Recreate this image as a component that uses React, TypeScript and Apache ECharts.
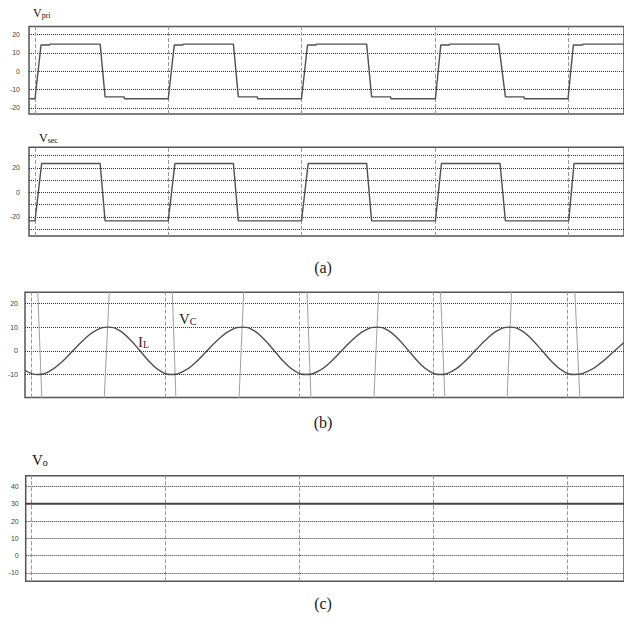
import React, { useEffect, useRef } from 'react';
import * as echarts from 'echarts';

// time axis (µs, one switching period = 10)
const timeMin = -0.45;
const timeMax = 44.2;
const periodMarks = [0, 10, 20, 30, 40];

// (a) primary voltage [t, V]
const vpri: [number, number][] = [
  [-0.45, -15], [0, -15], [0.45, 14.2], [1.1, 14.2], [1.12, 14.7], [4.89, 14.7], [5.26, -14], [6.69, -14], [6.71, -15],
  [10.0, -15], [10.45, 14.2], [11.1, 14.2], [11.12, 14.7], [14.89, 14.7], [15.26, -14], [16.69, -14], [16.71, -15],
  [20.0, -15], [20.45, 14.2], [21.1, 14.2], [21.12, 14.7], [24.89, 14.7], [25.26, -14], [26.69, -14], [26.71, -15],
  [30.05, -15], [30.45, 14.2], [31.1, 14.2], [31.12, 14.7], [34.8, 14.7], [35.3, -14], [36.7, -14], [36.72, -15],
  [40.0, -15], [40.4, 14.2], [41.1, 14.2], [41.12, 14.7], [44.2, 14.7],
];

// (a) secondary voltage [t, V]
const vsec: [number, number][] = [
  [-0.45, -23.3], [0, -23.3], [0.5, 23.6], [4.89, 23.6], [5.26, -23.3],
  [10.0, -23.3], [10.5, 23.6], [14.89, 23.6], [15.26, -23.3],
  [20.0, -23.3], [20.5, 23.6], [24.89, 23.6], [25.26, -23.3],
  [30.05, -23.3], [30.5, 23.6], [34.9, 23.6], [35.3, -23.3],
  [40.05, -23.3], [40.45, 23.6], [44.2, 23.6],
];

// (b) resonant inductor current [t, A]
const iL: [number, number][] = [
  [-0.45, -8.2], [0.0, -9.5], [0.47, -10],
  [1.35, -8.7], [2.23, -5], [3.12, 0], [4.0, 5], [4.88, 8.7], [5.77, 10],
  [6.55, 8.7], [7.34, 5], [8.12, 0], [8.9, -5], [9.69, -8.7], [10.47, -10],
  [11.35, -8.7], [12.24, -5], [13.12, 0], [14.0, 5], [14.89, 8.7], [15.77, 10],
  [16.56, 8.7], [17.35, 5], [18.13, 0], [18.92, -5], [19.71, -8.7], [20.5, -10],
  [21.38, -8.7], [22.27, -5], [23.15, 0], [24.03, 5], [24.92, 8.7], [25.8, 10],
  [26.58, 8.7], [27.37, 5], [28.15, 0], [28.93, -5], [29.72, -8.7], [30.5, -10],
  [31.37, -8.7], [32.23, -5], [33.1, 0], [33.97, 5], [34.83, 8.7], [35.7, 10],
  [36.5, 8.7], [37.3, 5], [38.1, 0], [38.9, -5], [39.7, -8.7], [40.5, -10],
  [41.5, -8.7], [42.5, -5], [43.5, 0], [44.2, 3.5],
];

// (b) resonant capacitor voltage (large swing, only the zero crossings are in view) [t, V]
const vC: [number, number][] = [
  [-0.45, 40], [0.4, 40], [0.94, -40], [5.29, -40], [5.96, 40],
  [10.44, 40], [10.92, -40], [15.35, -40], [15.97, 40],
  [20.47, 40], [21.0, -40], [25.4, -40], [26.03, 40],
  [30.42, 40], [30.99, -40], [35.34, -40], [35.93, 40],
  [40.41, 40], [41.08, -40], [44.2, -40],
];

// (c) output voltage [t, V]
const vo: [number, number][] = [[-0.45, 30], [44.2, 30]];

const gridLinesA1 = [20, 10, 0, -10, -20];
const ticksA1 = [20, 10, 0, -10, -20];
const gridLinesA2 = [30, 20, 10, 0, -10, -20, -30];
const ticksA2 = [20, 0, -20];
const gridLinesB = [20, 10, 0, -10];
const ticksB = [20, 10, 0, -10];
const gridLinesC = [40, 30, 20, 10, 0, -10];
const ticksC = [40, 30, 20, 10, 0, -10];

const serif = 'Liberation Serif';

export default function App() {
  const ref = useRef<HTMLDivElement>(null);
  useEffect(() => {
    if (!ref.current) return;
    const chart = echarts.init(ref.current, undefined, { renderer: 'svg' });

    const grids = [
      { left: 29, top: 26.5, width: 598, height: 87.5 },
      { left: 29, top: 147.3, width: 598, height: 88.7 },
      { left: 25, top: 292.3, width: 602, height: 105.2 },
      { left: 25.7, top: 475.7, width: 601, height: 105.6 },
    ].map((g) => ({ ...g, show: true, borderColor: '#555', borderWidth: 1.5, backgroundColor: '#fff' }));

    const yRanges = [
      { min: -23.3, max: 24.3, ticks: ticksA1, margin: 9 },
      { min: -35.7, max: 36.8, ticks: ticksA2, margin: 9 },
      { min: -19.7, max: 24.7, ticks: ticksB, margin: 7 },
      { min: -14.8, max: 46.2, ticks: ticksC, margin: 7 },
    ];
    const hLines = [gridLinesA1, gridLinesA2, gridLinesB, gridLinesC];

    const xAxis = grids.map((_, i) => ({
      type: 'value', gridIndex: i, min: timeMin, max: timeMax, show: false,
    }));
    const yAxis = yRanges.map((r, i) => ({
      type: 'value', gridIndex: i, min: r.min, max: r.max,
      axisLine: { show: false }, axisTick: { show: false }, splitLine: { show: false },
      axisLabel: { customValues: r.ticks, fontSize: 7, color: '#444', margin: r.margin, fontFamily: 'Liberation Sans' },
    }));

    const gridSeries = hLines.map((lines, i) => ({
      type: 'line', xAxisIndex: i, yAxisIndex: i, data: [], z: 1, silent: true,
      markLine: {
        silent: true, z: 1, symbol: ['none', 'none'], label: { show: false }, emphasis: { disabled: true },
        data: [
          ...lines.map((v) => ({ yAxis: v, lineStyle: { type: [1, 1], color: '#333', width: 1 } })),
          ...periodMarks.map((t) => ({ xAxis: t, lineStyle: { type: [4, 2], color: '#999', width: 1 } })),
        ],
      },
    }));

    const line = (data: [number, number][], idx: number, color: string, width: number, smooth = false) => ({
      type: 'line', xAxisIndex: idx, yAxisIndex: idx, data, symbol: 'none', showSymbol: false,
      smooth, clip: true, silent: true, z: 3, lineStyle: { color, width },
    });

    const richText = (text: string, x: number, y: number, big: number, small: number, fill: string) => ({
      type: 'text', x, y, silent: true,
      style: {
        text, verticalAlign: 'bottom',
        rich: {
          v: { fontSize: big, fontFamily: serif, fill, color: fill, verticalAlign: 'bottom' },
          s: { fontSize: small, fontFamily: serif, fill, color: fill, verticalAlign: 'bottom' },
        },
      },
    });
    const caption = (text: string, y: number) => ({
      type: 'text', x: 323, y, silent: true,
      style: { text, fontSize: 16, fontFamily: serif, fill: '#222', textAlign: 'center', verticalAlign: 'middle' },
    });

    chart.setOption({
      animation: false,
      backgroundColor: '#fff',
      grid: grids,
      xAxis,
      yAxis,
      series: [
        ...gridSeries,
        line(vpri, 0, '#505050', 1.4),
        line(vsec, 1, '#505050', 1.4),
        line(vC, 2, '#a0a0a0', 1),
        line(iL, 2, '#505050', 1.4, true),
        line(vo, 3, '#444', 2),
      ],
      graphic: [
        richText('{v|V}{s|pri}', 33, 19, 12, 8, '#111'),
        richText('{v|V}{s|sec}', 39, 144, 12, 8, '#111'),
        richText('{v|I}{s|L}', 138, 349, 15, 10, '#4a2424'),
        richText('{v|V}{s|C}', 179, 326, 15, 10, '#1e2430'),
        richText('{v|V}{s|o}', 32, 467, 15, 10, '#111'),
        caption('(a)', 267),
        caption('(b)', 422),
        caption('(c)', 603),
      ],
    });
    return () => chart.dispose();
  }, []);
  return (
    <div
      ref={ref}
      style={{ position: 'fixed', left: 0, top: 0, width: 624, height: 620, background: '#fff' }}
    />
  );
}
